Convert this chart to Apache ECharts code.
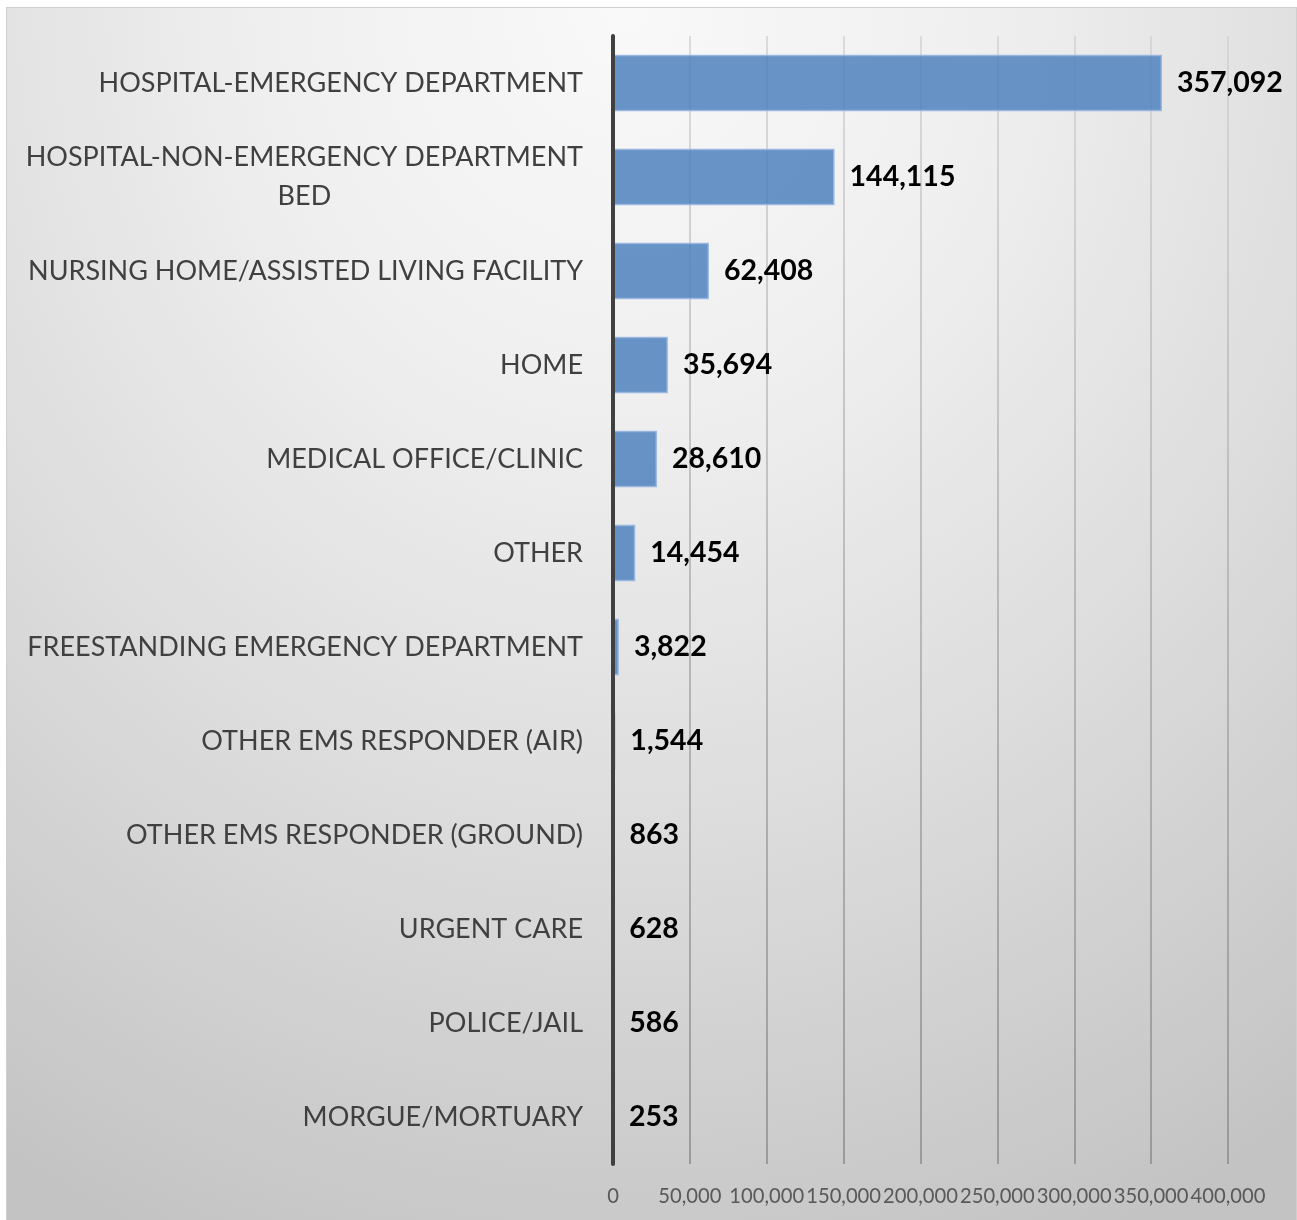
<!DOCTYPE html>
<html>
<head>
<meta charset="utf-8">
<script src="https://cdn.jsdelivr.net/npm/echarts@6/dist/echarts.min.js"></script>
<style>
  body { margin: 0; background: #fff; }
  .frame {
    position: absolute; left: 6px; top: 7px; width: 1289px; height: 1220px;
    border: 1px solid #cfcfcf;
    background: radial-gradient(ellipse 95% 110% at 48% 0%, #f9f9f9 0%, #efefef 30%, #dcdcdc 62%, #c3c3c3 100%);
  }
  .charts { position: absolute; left: 0; top: 0; width: 1297px; height: 1220px; }
</style>
</head>
<body>
<div class="frame"></div>
<div class="charts" id="charts"></div>
<script>
// categories top to bottom
const categories = [
  "HOSPITAL-EMERGENCY DEPARTMENT",
  "HOSPITAL-NON-EMERGENCY DEPARTMENT BED",
  "NURSING HOME/ASSISTED LIVING FACILITY",
  "HOME",
  "MEDICAL OFFICE/CLINIC",
  "OTHER",
  "FREESTANDING EMERGENCY DEPARTMENT",
  "OTHER EMS RESPONDER (AIR)",
  "OTHER EMS RESPONDER (GROUND)",
  "URGENT CARE",
  "POLICE/JAIL",
  "MORGUE/MORTUARY"
];
const values = [357092, 144115, 62408, 35694, 28610, 14454, 3822, 1544, 863, 628, 586, 253];
const axisMax = 400000;
const axisStep = 50000;

const font = "Lato";
const labelSize = 27;
const fmt = (v) => Number(v).toLocaleString("en-US");

// wrap a label when it is wider than the space left of the axis
const ctx = document.createElement("canvas").getContext("2d");
ctx.font = labelSize + "px " + font;
function wrap(s) {
  if (ctx.measureText(s).width <= 580) return [s];
  const cut = s.lastIndexOf(" ");
  return [s.slice(0, cut), s.slice(cut + 1)];
}

let mycharts = echarts.init(document.getElementById("charts"));
let option = {
  animation: false,
  grid: {
    left: 613,
    right: 69,
    top: 36,
    bottom: 56,
    containLabel: false,
    outerBoundsMode: "none",
  },
  xAxis: {
    type: "value",
    min: 0,
    max: axisMax,
    interval: axisStep,
    axisLine: { show: false },
    axisTick: { show: false },
    splitLine: {
      show: true,
      lineStyle: {
        width: 1.5,
        color: new echarts.graphic.LinearGradient(0, 0, 0, 1, [
          { offset: 0, color: "#d2d2d2" },
          { offset: 0.5, color: "#ababab" },
          { offset: 1, color: "#8a8a8a" },
        ]),
      },
    },
    axisLabel: {
      color: "#595959",
      fontFamily: font,
      fontSize: 20.2,
      margin: 22,
      hideOverlap: false,
      formatter: (v) => fmt(v),
    },
  },
  yAxis: {
    type: "category",
    inverse: true,
    data: categories,
    z: 5,
    axisTick: { show: false },
    axisLine: {
      show: true,
      lineStyle: { color: "#404040", width: 4 },
    },
    axisLabel: {
      margin: 30,
      align: "right",
      formatter: (v) => wrap(v).map((l) => "{c|" + l + "}").join("\n"),
      rich: {
        c: {
          align: "center",
          color: "#404040",
          fontFamily: font,
          fontSize: labelSize,
          lineHeight: 39,
        },
      },
    },
  },
  series: [
    {
      type: "bar",
      data: values,
      barCategoryGap: "40%",
      itemStyle: {
        color: "rgba(79,129,189,0.85)",
        borderColor: "rgba(150,182,224,0.9)",
        borderWidth: 1.5,
      },
      label: {
        show: true,
        position: "right",
        distance: 15,
        color: "#000",
        fontFamily: font,
        fontWeight: "bold",
        fontSize: 28.5,
        formatter: (p) => fmt(p.value),
      },
    },
  ],
};
mycharts.setOption(option);
</script>
</body>
</html>
